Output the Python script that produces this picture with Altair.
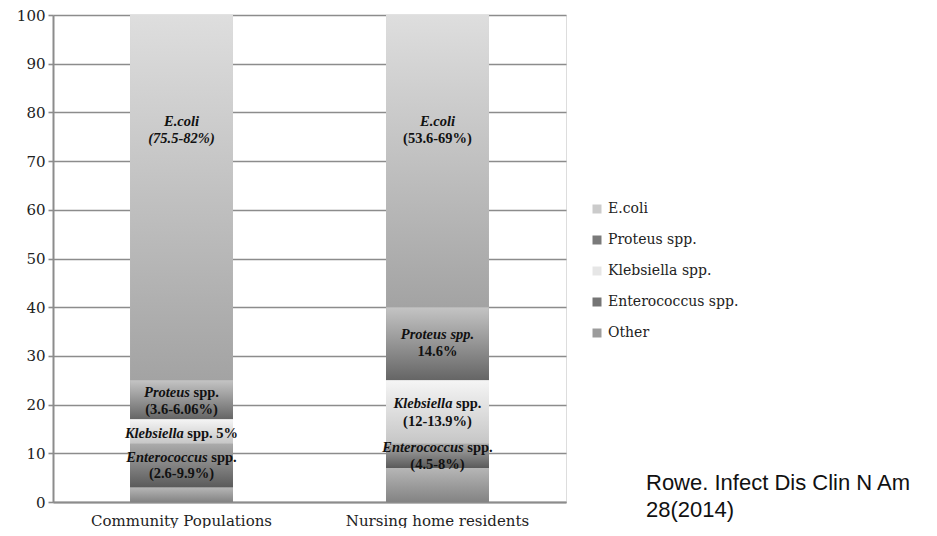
import altair as alt
import pandas as pd

# ---------------- data ----------------
groups = ["Community Populations", "Nursing home residents"]
species = ["E.coli", "Proteus spp.", "Klebsiella spp.", "Enterococcus spp.", "Other"]
community_pct = [75, 8, 5, 9, 3]     # same order as species
nursing_pct = [60, 15, 13, 5, 7]
stack_order = ["Other", "Enterococcus spp.", "Klebsiella spp.", "Proteus spp.", "E.coli"]

legend_colors = ["#cbcbcb", "#7a7a7a", "#e6e6e6", "#757575", "#9c9c9c"]
grad_top = ["#dedede", "#c4c4c4", "#f5f5f5", "#ababab", "#b6b6b6"]
grad_bottom = ["#a3a3a3", "#656565", "#c6c6c6", "#5a5a5a", "#838383"]

y_ticks = list(range(0, 101, 10))

label_group = [
    "Community Populations", "Community Populations", "Community Populations",
    "Community Populations", "Community Populations", "Community Populations",
    "Community Populations",
    "Nursing home residents", "Nursing home residents", "Nursing home residents",
    "Nursing home residents", "Nursing home residents", "Nursing home residents",
    "Nursing home residents", "Nursing home residents",
]
label_y = [78, 74.5, 22.4, 18.8, 13.9, 9.1, 5.7,
           78, 74.6, 34.2, 30.7, 20.1, 16.5, 11.1, 7.7]
label_italic = ["E.coli", "(75.5-82%)", "Proteus", "", "Klebsiella", "Enterococcus", "",
                "E.coli", "", "Proteus spp.", "", "Klebsiella", "", "Enterococcus", ""]
label_upright = ["", "", " spp.", "(3.6-6.06%)", " spp. 5%", " spp.", "(2.6-9.9%)",
                 "", "(53.6-69%)", "", "14.6%", " spp.", "(12-13.9%)", " spp.", "(4.5-8%)"]

source_lines = ["Rowe. Infect Dis Clin N Am", "28(2014)"]

# ---------------- helpers ----------------
# Times (Liberation Serif) bold / bold-italic advance widths, per 1000 em
W_BOLD = {" ": 250, "%": 1000, "(": 333, ")": 333, "-": 333, ".": 250, "E": 667, "K": 778,
          "P": 611, "a": 500, "b": 556, "c": 444, "e": 444, "i": 278, "l": 278, "n": 556,
          "o": 500, "p": 556, "r": 444, "s": 389, "t": 333, "u": 556}
W_BI = {" ": 250, "%": 833, "(": 333, ")": 333, "-": 333, ".": 250, "E": 667, "K": 667,
        "P": 611, "a": 500, "b": 500, "c": 444, "e": 444, "i": 278, "l": 278, "n": 556,
        "o": 500, "p": 500, "r": 389, "s": 389, "t": 278, "u": 556}
FS = 14.5


def text_w(s, table):
    return sum(table.get(ch, 500) for ch in s) * FS / 1000.0


rows = []
for g, vals in zip(groups, [community_pct, nursing_pct]):
    d = dict(zip(species, vals))
    base = 0
    for s in stack_order:
        rows.append({"group": g, "species": s, "y0": base, "y1": base + d[s]})
        base += d[s]
seg = pd.DataFrame(rows)

GRID = "#8c8c8c"


def xenc():
    return alt.X(
        "group:N", sort=groups, title=None,
        scale=alt.Scale(domain=groups, paddingInner=0.598, paddingOuter=0.301),
        axis=alt.Axis(labelAngle=0, ticks=False, domainColor=GRID, domainWidth=2,
                      labelFont="DejaVu Serif", labelFontSize=15, labelColor="#222222",
                      labelPadding=11, labelLimit=400),
    )


def yenc(field):
    return alt.Y(
        field, title=None,
        scale=alt.Scale(domain=[0, 100], nice=False, zero=True),
        axis=alt.Axis(values=y_ticks, grid=True, gridColor=GRID, gridWidth=1.6,
                      domainColor=GRID, domainWidth=2, tickColor=GRID, tickWidth=1.6,
                      tickSize=5, labelFont="DejaVu Serif", labelFontSize=15,
                      labelColor="#222222", labelPadding=3),
    )


base_bars = alt.Chart(seg).mark_bar().encode(
    x=xenc(),
    y=yenc("y0:Q"),
    y2="y1:Q",
    color=alt.Color(
        "species:N",
        scale=alt.Scale(domain=species, range=legend_colors),
        legend=alt.Legend(title=None, orient="none", legendX=537, legendY=187,
                          symbolType="square", symbolSize=81, symbolStrokeWidth=0,
                          labelFont="DejaVu Serif", labelFontSize=14,
                          labelColor="#222222", rowPadding=17, labelOffset=4),
    ),
)

layers = [base_bars]
for s, top, bot in zip(species, grad_top, grad_bottom):
    layers.append(
        alt.Chart(seg).transform_filter(alt.datum.species == s).mark_bar(
            color=alt.Gradient(
                gradient="linear",
                stops=[alt.GradientStop(color=top, offset=0),
                       alt.GradientStop(color=bot, offset=1)],
                x1=0, x2=0, y1=0, y2=1,
            )
        ).encode(x=xenc(), y=yenc("y0:Q"), y2="y1:Q")
    )

for g, yv, it, up in zip(label_group, label_y, label_italic, label_upright):
    wi = text_w(it, W_BI)
    lead = len(up) - len(up.lstrip(" "))
    up_s = up.lstrip(" ")
    wsp = text_w(" " * lead, W_BOLD)
    wu = text_w(up_s, W_BOLD)
    total = wi + wsp + wu
    df = pd.DataFrame({"group": [g], "y": [yv], "it": [it], "up": [up_s]})
    if it:
        layers.append(
            alt.Chart(df).mark_text(
                align="left", baseline="middle", dx=-total / 2, font="Liberation Serif",
                fontSize=FS, fontWeight="bold", fontStyle="italic", color="#111111",
            ).encode(x=xenc(), y=yenc("y:Q"), text="it:N")
        )
    if up_s:
        layers.append(
            alt.Chart(df).mark_text(
                align="left", baseline="middle", dx=-total / 2 + wi + wsp,
                font="Liberation Serif", fontSize=FS, fontWeight="bold", color="#111111",
            ).encode(x=xenc(), y=yenc("y:Q"), text="up:N")
        )

for i, line in enumerate(source_lines):
    df = pd.DataFrame({"line": [line]})
    layers.append(
        alt.Chart(df).mark_text(
            align="left", baseline="middle", font="Liberation Sans", fontSize=22,
            color="#111111",
        ).encode(x=alt.value(593), y=alt.value(468 + 27 * i), text="line:N")
    )

chart = alt.layer(*layers).properties(
    width=513,
    height=487,
    autosize=alt.AutoSizeParams(type="none"),
    padding={"left": 45, "top": 7, "right": 363, "bottom": 26},
).configure_view(stroke=None).configure(background="white")

chart.save("out.html", embed_options={"renderer": "svg", "actions": False})
